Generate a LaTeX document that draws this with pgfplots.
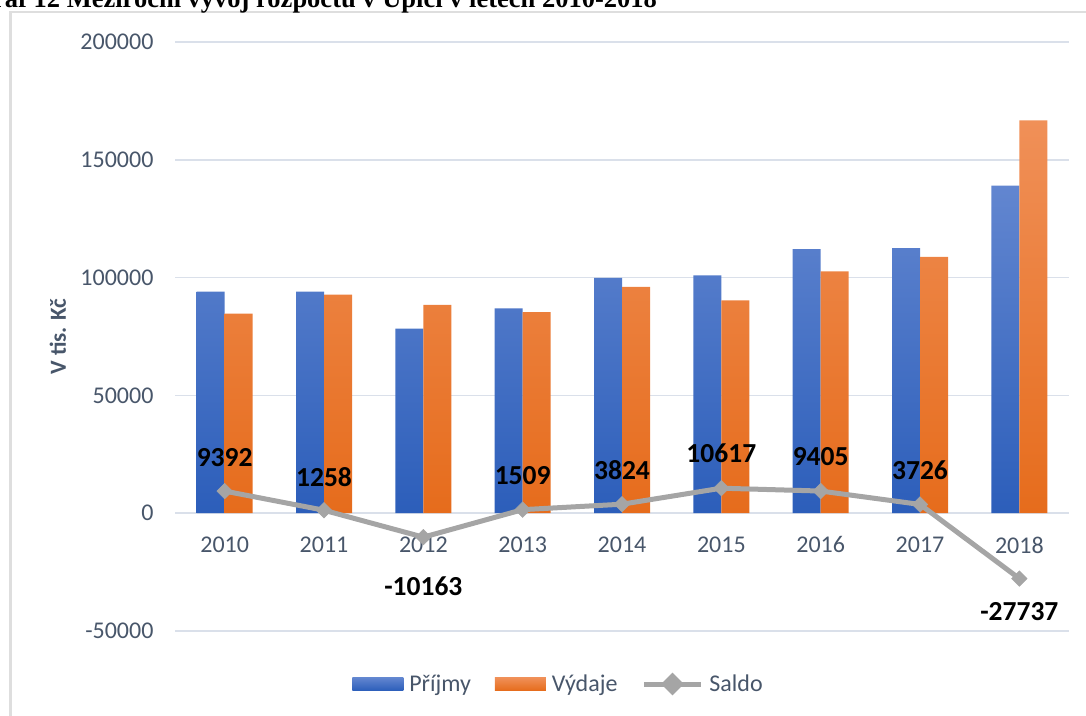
\documentclass[border=0pt]{standalone}
\usepackage{pgfplots}
\pgfplotsset{compat=1.18}
\usepackage{pgfplotstable}
\usepackage{fontspec}
\setmainfont{Carlito}
\newfontfamily\titlefont{Liberation Serif}
\definecolor{blueTop}{RGB}{98,134,208}
\definecolor{blueBot}{RGB}{44,94,186}
\definecolor{orTop}{RGB}{240,144,88}
\definecolor{orBot}{RGB}{230,108,28}
\definecolor{saldocol}{RGB}{165,165,165}
\definecolor{gridcol}{RGB}{218,224,234}
\definecolor{tickcol}{RGB}{72,86,106}
\definecolor{framecol}{RGB}{222,222,222}

\pgfplotstableread{
x P V S lbl dy
0 94100 84708 9392 9392 34
1 94000 92742 1258 1258 33
2 78300 88463 -10163 -10163 -49
3 86900 85391 1509 1509 34
4 99900 96076 3824 3824 34
5 101000 90383 10617 10617 35
6 112100 102695 9405 9405 34
7 112500 108774 3726 3726 34
8 139000 166737 -27737 -27737 -33
}\data

\begin{document}
\begin{tikzpicture}
\useasboundingbox (0pt,0pt) rectangle (1086pt,-715pt);
\draw[framecol, line width=2.5pt] (10.5pt,-730pt) -- (10.5pt,-12pt) -- (1100pt,-12pt);
\node[anchor=base east, font=\titlefont\bfseries\fontsize{26.5}{30}\selectfont, inner sep=0pt] at (657pt,-7.5pt) {Graf 12 Meziroční vývoj rozpočtu v Úpici v letech 2010-2018};
\begin{axis}[
  at={(175pt,-631pt)}, anchor=south west,
  scale only axis, width=894pt, height=589pt,
  xmin=-0.5, xmax=8.5, ymin=-50000, ymax=200000,
  axis x line*=middle, axis y line*=left,
  axis line style={draw=none},
  hide obscured x ticks=false, hide obscured y ticks=false,
  scaled y ticks=false,
  major tick length=0pt,
  ytick={-50000,0,50000,100000,150000,200000},
  yticklabels={-50000,0,50000,100000,150000,200000},
  xtick={0,1,2,3,4,5,6,7,8},
  xticklabels={2010,2011,2012,2013,2014,2015,2016,2017,2018},
  ymajorgrids, grid style={gridcol, line width=1.6pt},
  yticklabel style={font=\fontsize{24}{28}\selectfont, color=tickcol, xshift=-18pt},
  xticklabel style={font=\fontsize{24}{28}\selectfont, color=tickcol, yshift=-20pt},
  ylabel={V tis. Kč},
  ylabel style={at={(axis description cs:-0.131,0.5)}, anchor=center, font=\bfseries\fontsize{23}{27}\selectfont, color=tickcol},
  clip=false,
  legend columns=3,
  legend style={at={(0.429,-0.09)}, anchor=center, draw=none, fill=none,
    font=\fontsize{24}{28}\selectfont, text=tickcol,
    /tikz/every odd column/.append style={column sep=4pt},
    /tikz/every even column/.append style={column sep=22pt}},
]
\addplot[ybar, bar width=28pt, bar shift=-14pt, draw=none, top color=blueTop, bottom color=blueBot,
  legend image code/.code={\path[top color=blueTop, bottom color=blueBot, draw=none] (0pt,-6.5pt) rectangle (51pt,6.5pt);}]
  table[x=x, y=P] {\data};
\addlegendentry{Příjmy}
\addplot[ybar, bar width=28pt, bar shift=14pt, draw=none, top color=orTop, bottom color=orBot,
  legend image code/.code={\path[top color=orTop, bottom color=orBot, draw=none] (0pt,-6.5pt) rectangle (51pt,6.5pt);}]
  table[x=x, y=V] {\data};
\addlegendentry{Výdaje}
\addplot[sharp plot, color=saldocol, line width=5pt, mark=square*, mark size=5.5pt,
  mark options={rotate=45, line width=0.5pt, fill=saldocol},
  visualization depends on={\thisrow{dy} \as \dy},
  nodes near coords, point meta=explicit symbolic,
  every node near coord/.style={anchor=center, yshift=\dy pt, font=\bfseries\fontsize{27.5}{31}\selectfont, text=black},
  legend image code/.code={\draw[saldocol, line width=5pt] (0pt,0pt) -- (57pt,0pt);
     \fill[saldocol, rotate around={45:(28.5pt,0pt)}] (23pt,-5.5pt) rectangle (34pt,5.5pt);}]
  table[x=x, y=S, meta=lbl] {\data};
\addlegendentry{Saldo}
\end{axis}
\end{tikzpicture}
\end{document}
